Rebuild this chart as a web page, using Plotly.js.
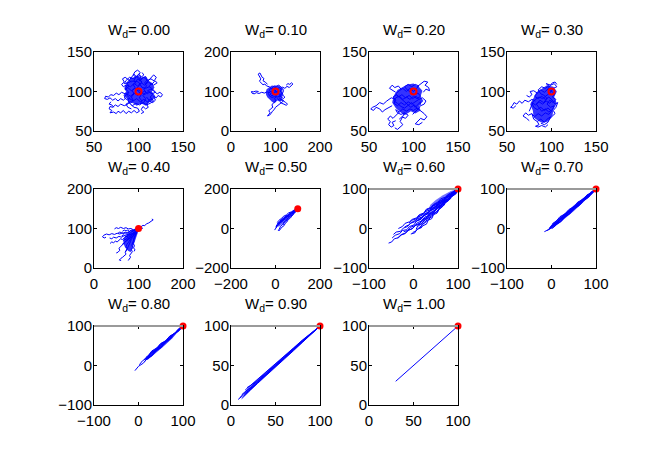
<!DOCTYPE html>
<html>
<head>
<meta charset="utf-8">
<script src="https://cdn.plot.ly/plotly-3.0.1.min.js"></script>
<style>
  html, body { margin: 0; padding: 0; background: #fff; }
  #chart { width: 664px; height: 457px; }
</style>
</head>
<body>
<div id="chart"></div>
<script>
// drift weight of each panel
var wdValues = [0.00, 0.10, 0.20, 0.30, 0.40, 0.50, 0.60, 0.70, 0.80, 0.90, 1.00];

// axis limits per panel, [min, max] (same for x and y)
var axisLimits = [[50,150],[0,200],[50,150],[50,150],[0,200],[-200,200],[-100,100],[-100,100],[-100,100],[0,100],[0,100]];

// target point
var targetX = 100, targetY = 100;

// outline of the solid blue core where the walks pile up
var core000 = [[84,104],[86,110],[89,113],[91,117],[95,118],[99,121],[103,117],[108,119],[111,114],[115,111],[118,105],[115,100],[119,94],[116,89],[112,86],[108,82],[103,85],[98,82],[94,85],[89,86],[87,91],[83,95],[86,100]];
var core010 = [[78,98],[80,106],[86,111],[92,115],[99,114],[105,116],[111,112],[116,106],[115,99],[118,92],[114,85],[116,78],[110,74],[104,77],[98,70],[92,74],[87,80],[82,85],[79,91]];
var core020 = [[78,95],[82,102],[87,105],[93,109],[100,110],[106,106],[110,101],[108,94],[111,88],[106,82],[108,76],[102,72],[97,75],[90,70],[85,74],[80,79],[76,86]];
var core030 = [[80,92],[83,99],[90,104],[95,108],[102,106],[106,100],[103,93],[106,85],[102,77],[101,68],[96,62],[90,60],[85,63],[80,67],[79,76],[76,84]];
var core040 = [[100,100],[92,98],[84,94],[76,88],[70,80],[66,72],[66,62],[70,52],[76,44],[82,40],[86,48],[90,60],[94,74],[98,88]];
var core050 = [[100,100],[82,92],[60,76],[38,56],[20,38],[10,20],[14,8],[28,20],[48,40],[70,62],[88,82]];
var core060 = [[100,100],[84,95],[66,84],[50,72],[38,60],[34,50],[44,46],[58,54],[72,66],[86,80],[96,92]];
var core070 = [[100,100],[80,85],[50,58],[22,32],[2,12],[-8,-3],[2,0],[22,18],[50,44],[80,76]];
var core080 = [[100,100],[72,75],[44,49],[24,29],[14,16],[20,14],[34,27],[54,46],[76,69]];

// walks, one list of strands per panel
var walk000 = [
  [[100,100],[96,104],[92,101],[88,105],[85,102],[87,108],[91,106],[95,110],[99,107],[103,111],[107,108],[111,112],[115,109],[118,113],[114,116],[110,114],[106,118],[102,115],[98,119],[94,116],[90,118],[86,114],[84,110],[88,111],[92,113],[96,113],[100,112],[104,105],[108,104],[112,106],[116,103],[119,99],[115,97],[111,100],[107,96],[103,99],[99,95],[95,98],[91,94],[87,97],[84,93],[86,90],[90,91],[94,88],[98,91],[102,87],[106,90],[110,87],[114,91],[117,88],[113,85],[109,83],[105,86],[101,83],[97,85],[93,82],[89,86],[86,84],[88,80],[92,78]],
  [[100,100],[103,96],[101,92],[104,88],[102,84],[106,86],[108,91],[105,95],[108,99],[106,103],[109,107],[107,111],[110,115],[108,119],[104,117],[102,113],[99,116],[97,112],[94,109],[96,105],[93,101],[95,97],[92,93],[94,89],[91,85],[88,88],[90,92],[87,95],[89,99],[86,103],[89,107],[87,111],[90,115],[93,119],[95,122],[98,118],[100,122],[103,119],[101,115],[104,112],[101,108],[98,104],[101,101],[104,98],[107,101],[110,97],[113,100],[116,96],[113,93],[116,90],[112,89],[109,93]],
  [[89,99],[85,97],[81,99],[78,96],[75,98],[72,95],[69,96],[66,93],[63,94],[62,91],[65,90],[68,92],[71,89],[74,91],[77,88],[80,91],[83,89],[86,92]],
  [[91,88],[88,84],[84,82],[80,84],[77,81],[74,83],[71,80],[68,81],[67,78],[70,76],[68,73],[72,74],[75,72],[77,75],[80,73],[83,76],[86,72],[89,75],[92,73],[95,76],[98,73],[101,75],[99,79],[95,80],[92,83]],
  [[72,80],[70,83],[67,84],[69,87]],
  [[97,110],[95,114],[97,118],[94,121],[96,125],[99,127],[102,124],[100,121],[103,118],[106,121],[104,124]],
  [[110,101],[114,103],[118,100],[121,97],[124,99],[127,96],[125,93],[122,95],[120,92],[117,94],[119,89],[116,86],[112,88],[109,84],[111,80],[108,78],[105,81],[103,77],[106,74],[103,72]],
  [[108,110],[111,114],[114,117],[117,121],[120,118],[118,114],[121,111],[117,108],[114,110],[112,106]],
  [[92,112],[88,115],[85,118],[82,116],[84,112],[81,109],[83,106],[86,108]]
];

var walk010 = [
  [[100,100],[94,104],[90,99],[86,103],[89,108],[95,106],[99,111],[104,107],[109,110],[113,105],[110,101],[114,97],[111,92],[106,95],[102,90],[97,93],[92,89],[88,93],[91,97],[96,96],[101,99],[106,102],[104,96],[99,104],[93,110],[97,114],[103,113],[107,116],[112,112],[116,108],[118,102],[115,93],[110,88],[104,86],[98,87],[92,85],[87,88],[84,95],[86,100]],
  [[92,106],[86,112],[80,114],[76,119],[72,117],[68,122],[64,126],[67,132],[63,138],[61,144],[65,147],[68,142],[70,136],[74,133],[72,127],[77,124],[82,118]],
  [[110,106],[116,111],[121,108],[126,113],[131,110],[135,116],[139,119],[136,122],[132,118],[128,120],[124,116]],
  [[88,97],[81,99],[75,96],[69,98],[63,95],[57,97],[52,94],[47,96],[46,100],[50,99],[56,101],[62,100]],
  [[102,88],[98,82],[101,76],[96,72],[92,66],[94,60],[89,56],[85,51],[88,46],[84,42],[82,38],[86,40],[90,44],[93,50],[97,54],[100,60],[105,64],[110,68],[114,72],[118,76],[115,80],[109,78],[104,82]],
  [[108,84],[114,80],[118,76],[123,72],[127,68],[124,65],[119,68],[114,70],[110,74]],
  [[108,90],[114,86],[118,82],[121,86],[117,90]]
];

var walk020 = [
  [[100,100],[96,104],[92,100],[88,104],[84,101],[80,97],[83,93],[87,96],[91,92],[95,95],[99,91],[103,94],[106,90],[102,87],[98,84],[94,87],[90,83],[86,86],[82,82],[78,85],[80,89],[77,93],[81,96],[85,92],[89,88],[93,84],[97,80],[101,83],[104,79],[100,76],[96,78],[92,75],[88,78],[84,74],[80,77],[82,73],[86,71],[90,73],[94,70],[91,66],[87,68],[84,65]],
  [[100,100],[103,104],[106,107],[102,109],[98,106],[94,109],[90,106],[93,102],[97,99],[101,96],[105,98],[108,94],[104,91],[100,94],[96,90],[92,93],[88,90],[84,94],[80,92],[78,88],[82,85],[86,81],[90,79],[94,82],[98,86],[102,80],[105,84],[108,87],[107,80],[103,75],[99,71]],
  [[80,90],[75,92],[70,88],[66,84],[62,86],[58,82],[54,80],[52,78],[55,76],[58,80],[62,78],[65,74],[68,77],[72,80],[76,82]],
  [[86,103],[83,107],[79,105],[76,108],[73,104],[77,101],[80,99]],
  [[104,106],[108,110],[112,113],[116,112],[113,108],[117,105],[118,101],[114,103],[111,99]],
  [[84,74],[80,70],[77,66],[74,69],[71,65],[74,62],[72,58],[75,55],[78,57],[76,61],[80,63]],
  [[90,73],[88,68],[85,62],[88,58],[85,55],[82,52],[79,54]],
  [[104,79],[108,76],[112,72],[115,68],[112,64],[108,66],[105,62],[102,59],[106,58],[110,61]],
  [[106,90],[110,92],[114,88],[112,84],[108,82]]
];

var walk030 = [
  [[100,100],[96,103],[92,99],[88,102],[84,98],[81,94],[85,91],[89,94],[93,90],[97,93],[101,89],[98,85],[94,88],[90,84],[86,87],[82,83],[78,86],[80,80],[84,77],[88,80],[92,76],[96,79],[100,75],[97,71],[93,73],[89,69],[85,72],[81,68],[78,72],[80,65],[84,62],[88,65],[92,61],[95,65],[99,68],[96,61],[92,58],[88,60]],
  [[100,100],[104,97],[101,93],[105,90],[102,86],[98,89],[95,84],[99,80],[103,82],[101,77],[97,74],[93,78],[89,75],[86,80],[83,84],[87,89],[91,86],[95,91],[92,95],[88,97],[85,102],[89,106],[93,104],[97,107],[94,110],[99,108],[103,110],[106,106],[102,104],[98,98],[94,95],[90,91],[86,93],[82,90],[79,86],[77,80],[75,75]],
  [[82,88],[78,90],[74,87],[70,89],[67,85],[64,88],[61,84],[58,86],[56,82],[54,80],[57,79],[60,82]],
  [[84,98],[80,101],[76,100],[78,96],[75,93],[72,95]],
  [[84,62],[86,58],[82,56],[85,55],[89,57],[93,55],[96,58]],
  [[78,72],[74,70],[71,73],[68,69],[72,66],[75,63]],
  [[101,89],[104,84],[107,86],[105,80],[102,76],[104,72],[101,69]],
  [[96,103],[98,107],[101,111],[104,112],[106,109]]
];

var walk040 = [
  [[100,100],[95,97],[90,94],[85,96],[80,92],[75,90],[70,88],[64,89],[58,86],[52,88],[46,85],[40,87],[34,84],[28,86],[22,83],[19,79],[23,76],[27,78]],
  [[100,100],[96,95],[92,92],[88,86],[84,88],[80,83],[76,79],[72,80],[68,75],[64,72],[60,74],[56,70],[52,66],[48,68],[44,64],[40,66],[36,62]],
  [[100,100],[97,94],[93,90],[90,84],[86,80],[83,74],[80,70],[77,64],[74,60],[72,54],[75,50],[73,44],[70,40],[72,35],[68,30],[64,27],[60,24],[57,20],[61,19]],
  [[100,100],[98,93],[95,88],[93,82],[91,76],[88,70],[87,64],[85,58],[87,52],[84,47],[86,41],[83,36],[80,32],[82,27],[79,22],[77,19]],
  [[100,100],[94,98],[88,97],[83,100],[77,99],[72,102],[66,100],[60,103],[55,100],[50,102],[46,99]],
  [[100,100],[95,93],[89,90],[84,85],[78,84],[73,80],[68,82],[62,78],[56,80],[50,76],[44,78],[40,74],[35,76]],
  [[100,100],[97,92],[93,86],[88,80],[83,78],[78,72],[73,70],[68,64],[64,58],[60,54],[56,50],[58,45],[54,40],[50,38]],
  [[100,100],[105,104],[110,108],[114,107],[118,112],[123,114],[128,118],[133,122],[130,124]],
  [[100,100],[104,98],[107,102],[110,100]],
  [[100,100],[96,96],[92,98],[88,93],[84,91],[80,87],[77,84],[73,86],[70,82],[66,84],[62,81]],
  [[100,100],[98,95],[96,89],[94,84],[92,79],[89,74],[90,68],[88,62],[91,57],[89,51],[92,46],[90,42]],
  [[100,100],[99,96],[95,94],[91,89],[89,84],[85,84],[82,79],[80,75],[76,74],[74,69],[70,67],[68,62],[64,61]],
  [[100,100],[96,91],[94,86],[92,88],[88,82],[87,77],[84,73],[82,67],[80,62],[78,58],[76,52],[74,47],[72,42]],
  [[80,92],[76,96],[72,94],[68,96],[64,93]],
  [[100,100],[95,99],[91,96],[86,93],[82,95],[79,90],[74,88],[70,91],[66,87],[62,89],[58,91],[54,88]],
  [[100,100],[98,97],[94,93],[90,90],[87,88],[84,82],[81,81],[78,76],[75,77],[72,72],[69,73],[66,68]]
];

var walk050 = [
  [[100,100],[87,91],[77,81],[63,71],[53,59],[39,51],[29,37],[15,27],[7,11],[-1,1],[-4,-8]],
  [[100,100],[91,85],[79,77],[71,65],[59,53],[51,43],[39,35],[33,21],[23,11],[17,-3],[12,-12]],
  [[100,100],[85,95],[73,85],[59,79],[49,69],[35,61],[27,51],[15,41],[8,30]],
  [[100,100],[93,87],[83,81],[77,69],[67,63],[61,55],[51,47],[47,35],[39,29],[34,18]],
  [[100,100],[89,93],[81,85],[69,79],[59,69],[45,63],[37,53],[25,45],[19,35],[11,29],[7,19],[2,10]],
  [[100,100],[95,91],[85,87],[79,77],[69,73],[63,63],[53,59],[47,49],[37,43],[31,35],[21,29],[15,19],[7,13],[4,4]],
  [[100,100],[91,97],[83,89],[71,81],[63,71],[53,63],[45,53],[35,47],[29,37],[19,31],[14,22]],
  [[100,100],[97,89],[87,83],[81,71],[73,63],[67,53],[57,45],[51,33],[43,25],[39,15],[29,7],[23,-5],[16,-12]],
  [[100,100],[87,93],[79,83],[65,77],[55,65],[43,59],[35,47],[25,39],[19,27],[9,19],[2,6]]
];

var walk060 = [
  [[100,100],[93,89],[85,86],[79,75],[70,71],[63,59],[54,56],[47,45],[37,39],[31,29],[21,23],[15,14],[5,9],[-1,1],[-11,-4],[-17,-11],[-27,-15],[-33,-23],[-43,-26],[-49,-34],[-56,-37]],
  [[100,100],[89,93],[83,83],[73,79],[67,71],[57,65],[51,57],[41,51],[35,43],[25,37],[19,29],[9,25],[3,17],[-7,13],[-13,5],[-23,1],[-29,-7],[-39,-9],[-45,-15]],
  [[100,100],[95,87],[85,81],[79,71],[69,63],[63,53],[55,47],[49,39],[39,33],[35,23],[25,17],[19,7],[11,1],[5,-7],[-2,-10]],
  [[100,100],[91,95],[85,87],[75,81],[69,73],[59,69],[53,61],[43,57],[37,47],[27,43],[21,35],[11,29],[5,21],[-5,15],[-11,9],[-20,4]],
  [[100,100],[97,91],[87,85],[83,75],[73,69],[69,59],[59,53],[55,43],[45,39],[41,29],[31,25],[27,15],[19,11],[15,1],[7,-3],[3,-11],[-6,-14]],
  [[100,100],[89,91],[81,81],[71,77],[65,65],[55,61],[49,51],[39,47],[33,37],[23,33],[17,23],[7,19],[1,9],[-9,5],[-15,-3],[-25,-5],[-31,-13],[-41,-17],[-48,-24]],
  [[100,100],[93,97],[87,89],[77,85],[71,77],[61,71],[55,65],[45,59],[39,51],[29,47],[23,37],[13,33],[7,25],[-3,21],[-10,14]],
  [[100,100],[93,87],[83,83],[77,73],[67,67],[61,57],[51,51],[45,41],[35,37],[29,27],[19,21],[13,11],[3,7],[-3,-1],[-13,-5],[-19,-13],[-29,-17],[-36,-24]],
  [[100,100],[95,95],[91,85],[83,79],[77,69],[69,65],[65,55],[57,49],[53,39],[45,35],[41,25],[33,21],[29,11],[21,7],[16,0]],
  [[100,100],[89,93],[79,87],[71,79],[61,75],[55,67],[45,61],[39,53],[29,49],[23,39],[13,35],[7,27],[-3,23],[-9,17],[-19,13],[-25,5],[-34,0]],
  [[100,100],[95,89],[87,85],[81,77],[71,71],[65,63],[57,57],[51,47],[41,43],[35,33],[25,29],[19,19],[9,15],[3,7],[-7,3],[-13,-5],[-22,-8]],
  [[100,100],[91,93],[85,85],[75,79],[69,71],[59,65],[53,57],[43,51],[37,43],[27,37],[21,29],[11,23],[4,16]],
  [[100,100],[94,92],[88,82],[80,78],[74,68],[66,64],[60,54],[52,50],[46,40],[38,36],[32,26],[24,22],[18,12],[10,8],[6,-2]],
  [[100,100],[92,91],[86,84],[78,80],[72,72],[64,68],[58,60],[50,56],[44,48],[36,44],[30,36],[22,32],[16,24],[8,20]],
  [[100,100],[95,92],[89,86],[83,80],[77,74],[71,68],[65,60],[59,56],[53,48],[47,44],[41,38],[35,30],[29,26],[23,18],[17,14],[11,6]]
];

var walk070 = [
  [[100,100],[91,89],[80,82],[71,70],[60,63],[51,51],[40,44],[31,32],[20,25],[11,13],[0,6],[-7,-3],[-16,-8]],
  [[100,100],[89,89],[81,77],[69,69],[61,57],[49,49],[41,37],[29,29],[21,17],[9,9],[2,0]],
  [[100,100],[91,91],[79,84],[71,73],[59,67],[51,55],[39,48],[31,37],[19,30],[11,19],[2,12]],
  [[100,100],[91,90],[83,79],[71,70],[63,59],[51,51],[43,40],[31,31],[23,20],[13,13],[6,4]],
  [[100,100],[92,92],[80,85],[72,74],[60,65],[52,54],[40,46],[32,35],[20,27],[13,16],[3,10],[-4,2]],
  [[100,100],[88,92],[80,79],[68,73],[60,60],[48,54],[40,41],[28,35],[20,22],[9,15]],
  [[100,100],[91,88],[79,81],[71,69],[59,62],[51,49],[39,42],[31,30],[19,23],[13,13],[3,7],[-3,-1],[-10,-5]],
  [[100,100],[91,92],[85,81],[74,75],[67,63],[55,57],[47,45],[35,39],[27,26],[15,20],[8,10]]
];

var walk080 = [
  [[100,100],[91,89],[80,81],[71,69],[60,60],[51,48],[40,40],[31,27],[20,19],[11,6],[0,-2],[-8,-13]],
  [[100,100],[89,91],[81,81],[69,73],[61,61],[49,54],[41,42],[29,34],[21,22],[12,15]],
  [[100,100],[91,88],[79,80],[71,67],[59,58],[51,46],[39,37],[31,25],[19,17],[14,10]],
  [[100,100],[90,93],[82,82],[70,74],[62,63],[50,56],[42,45],[30,37],[23,26],[16,20]],
  [[100,100],[90,87],[78,78],[70,66],[58,57],[50,45],[38,38],[30,26],[22,18]],
  [[100,100],[89,90],[81,80],[69,72],[61,60],[49,51],[41,40],[29,32],[21,20],[9,12],[2,2]]
];

var walk090 = [
  [[100,100],[90,90.5],[80,80.5],[70,70.5],[60,60],[50,50],[40,40],[30,29.5],[20,19],[14,12.5],[8,7]],
  [[100,100],[90,91.5],[80,82],[70,72],[60,62],[50,52],[40,42],[30,32],[22,24],[16,19]],
  [[100,100],[90,89],[80,79],[70,68.5],[60,58.5],[50,48],[40,38],[30,27.5],[22,19],[16,12],[12,8]],
  [[100,100],[90,90],[80,81],[70,71],[60,61],[50,51],[40,41],[30,31],[20,21],[12,13]],
  [[100,100],[90,89.5],[80,79.5],[70,69.5],[60,59],[50,49],[40,39],[30,28.5],[20,17.5],[14,11]],
  [[100,100],[90,91],[80,81.5],[70,71.5],[60,61.5],[50,51.5],[40,41.5],[30,31.5],[24,26],[18,22]],
  [[100,100],[90,90.5],[80,81],[70,71],[60,60.5],[50,50.5],[40,40.5],[30,30],[20,20],[12,12],[10,9]],
  [[100,100],[90,89.5],[80,80],[70,70],[60,59.5],[50,49.5],[40,39.5],[30,29],[22,20],[15,14]]
];

var walk100 = [
  [[30,30],[100,100]]
];

var walks = [walk000, walk010, walk020, walk030, walk040, walk050, walk060, walk070, walk080, walk090, walk100];
var cores = [core000, core010, core020, core030, core040, core050, core060, core070, core080, null, null];

// subplot grid in pixels
var W = 664, H = 457;
var colLeft = [94, 231, 369, 507];
var rowTop = [52, 189, 326];
var boxW = 89, boxH = 79;
var fontFam = '"Liberation Sans", Arial, Helvetica, sans-serif';
var coreAlpha = [0.8, 0.8, 0.8, 0.8, 0.8, 0.6, 0.55, 0.85, 0.85];

function flatten(strands) {
    var xs = [], ys = [];
    strands.forEach(function(s) {
        s.forEach(function(p) { xs.push(p[0]); ys.push(p[1]); });
        xs.push(null); ys.push(null);
    });
    return {x: xs, y: ys};
}

function axisCfg(lim, domain, anchor) {
    return {
        domain: domain, range: lim, anchor: anchor,
        tickmode: 'array', tickvals: [lim[0], (lim[0]+lim[1])/2, lim[1]],
        ticks: 'inside', ticklen: 3, tickwidth: 1, tickcolor: '#000',
        mirror: 'ticks', showline: true, linecolor: '#000', linewidth: 1,
        showgrid: false, zeroline: false, fixedrange: true,
        tickfont: {family: fontFam, size: 15, color: '#000'}
    };
}

var traces = [];
var layout = {
    width: W, height: H,
    margin: {l: 0, r: 0, t: 0, b: 0},
    paper_bgcolor: '#fff', plot_bgcolor: '#fff',
    showlegend: false,
    annotations: [], shapes: []
};

for (var i = 0; i < walks.length; i++) {
    var r = Math.floor(i / 4), c = i % 4;
    var xs = i === 0 ? 'x' : 'x' + (i + 1);
    var ys = i === 0 ? 'y' : 'y' + (i + 1);
    var L = colLeft[c], T = rowTop[r];
    var xd = [L / W, (L + boxW) / W];
    var yd = [1 - (T + boxH) / H, 1 - T / H];
    var xa = axisCfg(axisLimits[i], xd, ys);
    var ya = axisCfg(axisLimits[i], yd, xs);
    xa.ticklabelstandoff = 2;
    ya.ticklabelstandoff = -2;
    layout['xaxis' + (i === 0 ? '' : i + 1)] = xa;
    layout['yaxis' + (i === 0 ? '' : i + 1)] = ya;

    if (cores[i]) {
        traces.push({
            x: cores[i].map(function(p) { return p[0]; }),
            y: cores[i].map(function(p) { return p[1]; }),
            xaxis: xs, yaxis: ys, type: 'scatter', mode: 'lines',
            fill: 'toself', fillcolor: 'rgba(0,0,255,' + coreAlpha[i] + ')',
            line: {width: 0, color: 'rgba(0,0,255,0)'}, hoverinfo: 'skip'
        });
    }

    var f = flatten(walks[i]);
    traces.push({
        x: f.x, y: f.y, xaxis: xs, yaxis: ys,
        type: 'scatter', mode: 'lines', connectgaps: false,
        line: {color: '#0000ff', width: 1}, hoverinfo: 'skip'
    });
    var open = i < 4;
    traces.push({
        x: [targetX], y: [targetY], xaxis: xs, yaxis: ys,
        type: 'scatter', mode: 'markers', cliponaxis: false,
        marker: open
            ? {symbol: 'circle-open', size: 6, color: '#ff0000', line: {width: 2, color: '#ff0000'}}
            : {symbol: 'circle', size: 7, color: '#ff0000', line: {width: 0}},
        hoverinfo: 'skip'
    });

    layout.annotations.push({
        text: 'W<sub>d</sub>= ' + wdValues[i].toFixed(2),
        xref: 'paper', yref: 'paper',
        x: (L + boxW / 2) / W, y: 1 - (T - 10) / H,
        xanchor: 'center', yanchor: 'bottom', showarrow: false,
        font: {family: fontFam, size: 15, color: '#000'}
    });

    // top border shows grey where the limit is 100
    if (i >= 6) {
        layout.shapes.push({
            type: 'line', xref: xs + ' domain', yref: ys + ' domain',
            x0: 0, x1: 1, y0: 1, y1: 1, layer: 'above',
            line: {color: '#9a9a9a', width: 2}
        });
    }
}

Plotly.newPlot('chart', traces, layout, {displayModeBar: false, staticPlot: true});
</script>
</body>
</html>
